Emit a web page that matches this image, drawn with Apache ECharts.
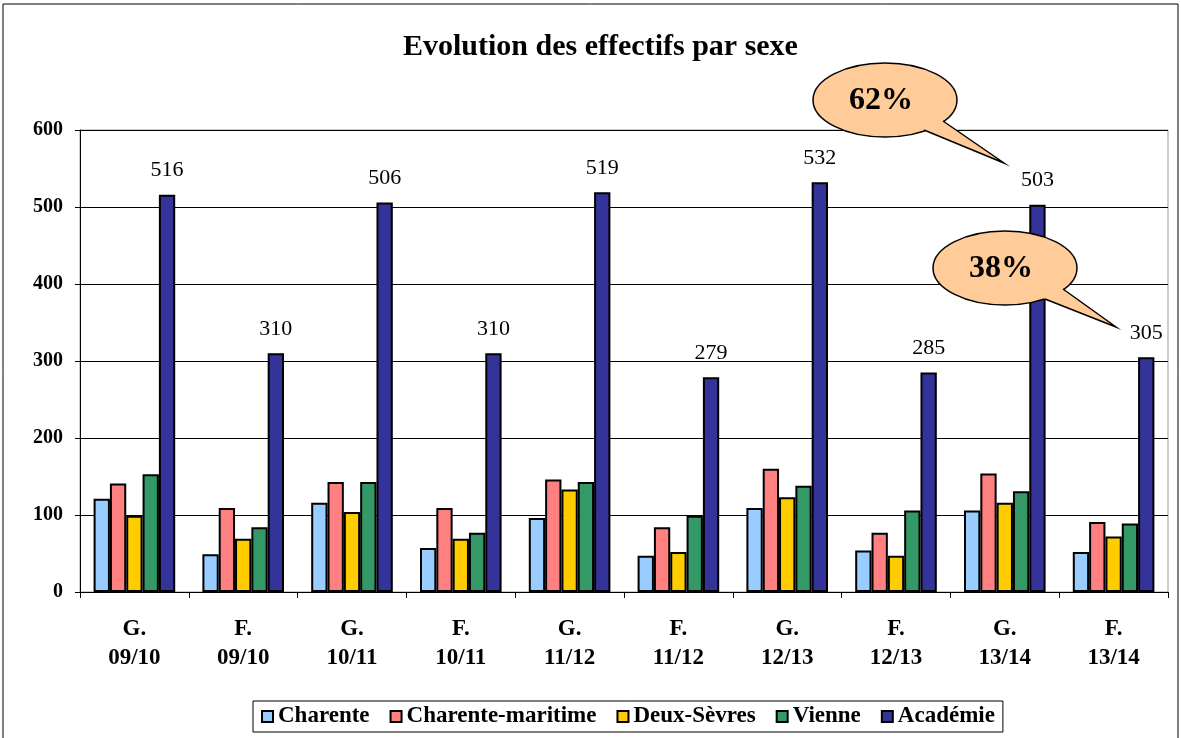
<!DOCTYPE html>
<html>
<head>
<meta charset="utf-8">
<script src="https://cdn.jsdelivr.net/npm/echarts@6/dist/echarts.min.js"></script>
<style>
  html, body { margin: 0; padding: 0; background: #fff; }
  #chart { width: 1181px; height: 738px; }
</style>
</head>
<body>
<div id="chart"></div>
<script>
const categories = ['G.\n09/10', 'F.\n09/10', 'G.\n10/11', 'F.\n10/11', 'G.\n11/12', 'F.\n11/12', 'G.\n12/13', 'F.\n12/13', 'G.\n13/14', 'F.\n13/14']
const charente = [121, 49, 116, 57, 96, 47, 109, 54, 106, 52]
const charenteMaritime = [141, 109, 143, 109, 146, 84, 160, 77, 154, 91]
const deuxSevres = [99, 69, 104, 69, 133, 52, 123, 47, 116, 72]
const vienne = [153, 84, 143, 77, 143, 99, 138, 106, 131, 89]
const academie = [516, 310, 506, 310, 519, 279, 532, 285, 503, 305]

const serif = '"Liberation Serif", "DejaVu Serif", serif'

function bar (name, data, color, label) {
  return {
    name: name,
    type: 'bar',
    data: data,
    barGap: '0%',
    barCategoryGap: '25%',
    itemStyle: { color: color, borderColor: '#000', borderWidth: 2 },
    label: label ? {
      show: true,
      position: 'top',
      distance: 13,
      fontFamily: serif,
      fontSize: 22,
      color: '#000'
    } : { show: false }
  }
}

// speech bubble: ellipse + tail
function bubble (cx, cy, text, tail) {
  const inner = p => {
    const dx = cx - p[0], dy = cy - p[1]
    const d = Math.sqrt(dx * dx + dy * dy)
    return [p[0] + dx / d * 14, p[1] + dy / d * 14]
  }
  return [
    {
      type: 'ellipse',
      shape: { cx: cx, cy: cy, rx: 72, ry: 37 },
      style: { fill: '#FFCC99', stroke: '#000', lineWidth: 1.5 },
      z: 100
    },
    {
      type: 'polygon',
      shape: { points: [tail[0], tail[2], tail[1], inner(tail[1]), inner(tail[0])] },
      style: { fill: '#FFCC99' },
      z: 101
    },
    {
      type: 'polyline',
      shape: { points: [tail[0], tail[2], tail[1]] },
      style: { stroke: '#000', lineWidth: 1.5, fill: null },
      z: 102
    },
    {
      type: 'text',
      style: {
        text: text, x: cx - 4, y: cy + 1, align: 'center', verticalAlign: 'middle',
        font: 'bold 32px ' + serif, fill: '#000'
      },
      z: 103
    }
  ]
}

const chart = echarts.init(document.getElementById('chart'))
chart.setOption({
  animation: false,
  backgroundColor: '#fff',
  title: {
    text: 'Evolution des effectifs par sexe',
    left: 398,
    top: 27,
    textStyle: { fontFamily: serif, fontWeight: 'bold', fontSize: 30, color: '#000' }
  },
  legend: {
    bottom: 6,
    left: 253,
    icon: 'rect',
    itemWidth: 11,
    itemHeight: 11,
    itemGap: 20,
    padding: [4, 8],
    borderColor: '#000',
    borderWidth: 1,
    textStyle: { fontFamily: serif, fontWeight: 'bold', fontSize: 23, color: '#000' },
    data: ['Charente', 'Charente-maritime', 'Deux-Sèvres', 'Vienne', 'Académie']
  },
  grid: {
    left: 80,
    right: 13,
    top: 130,
    bottom: 146,
    show: true,
    borderColor: '#999',
    borderWidth: 1
  },
  xAxis: {
    type: 'category',
    data: categories,
    axisLine: { lineStyle: { color: '#000', width: 1 } },
    axisTick: { show: true, length: 6, lineStyle: { color: '#000' } },
    axisLabel: {
      fontFamily: serif, fontWeight: 'bold', fontSize: 23, color: '#000',
      lineHeight: 29, margin: 23
    }
  },
  yAxis: {
    type: 'value',
    min: 0,
    max: 600,
    interval: 100,
    axisLine: { show: true, lineStyle: { color: '#000', width: 1 } },
    axisTick: { show: true, length: 5, lineStyle: { color: '#000' } },
    splitLine: { lineStyle: { color: '#000', width: 1 } },
    axisLabel: { fontFamily: serif, fontWeight: 'bold', fontSize: 20, color: '#000', margin: 17 }
  },
  series: [
    bar('Charente', charente, '#99CCFF', false),
    bar('Charente-maritime', charenteMaritime, '#FF8080', false),
    bar('Deux-Sèvres', deuxSevres, '#FFCC00', false),
    bar('Vienne', vienne, '#339966', false),
    bar('Académie', academie, '#333399', true)
  ],
  graphic: [
    {
      type: 'rect',
      shape: { x: 3, y: 4, width: 1175, height: 800 },
      style: { fill: null, stroke: '#000', lineWidth: 1 },
      silent: true
    }
  ].concat(
    bubble(885, 100, '62%', [[943, 121], [924, 130], [1004, 163]]),
    bubble(1005, 268, '38%', [[1063, 289], [1045, 299], [1116, 327]])
  )
})
</script>
</body>
</html>
